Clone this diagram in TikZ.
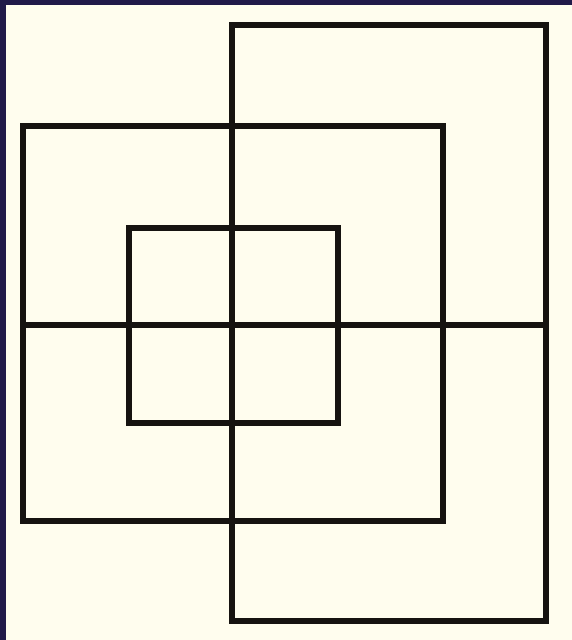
\documentclass[tikz,border=0pt]{standalone}
\usepackage{tikz}
\usetikzlibrary{positioning}

\definecolor{paper}{HTML}{FFFDEE}
\definecolor{frame}{HTML}{211A49}
\definecolor{ink}{HTML}{161310}

\begin{document}
\begin{tikzpicture}[
    x=0.02cm, y=-0.02cm,
    outline/.style={draw=ink, line width=3.4pt, line join=miter},
]

% --- Background and frame ---
\useasboundingbox (0,0) rectangle (572,640);
\fill[paper] (0,0) rectangle (572,640);
\fill[frame] (0,0) rectangle (572,5);
\fill[frame] (0,0) rectangle (6,640);

% --- Corners ---
\coordinate (leftTL) at (23,126);
\coordinate (leftBR) at (443,521);
\coordinate (tallTL) at (232,25);
\coordinate (tallBR) at (546,621);
\coordinate (innerTL) at (129,228);
\coordinate (innerBR) at (338,423);
\coordinate (midW) at (23,325);
\coordinate (midE) at (546,325);

% --- Squares ---
\draw[outline] (leftTL) rectangle (leftBR);
\draw[outline] (tallTL) rectangle (tallBR);
\draw[outline] (innerTL) rectangle (innerBR);

% --- Middle line ---
\draw[outline] (midW) -- (midE);

\end{tikzpicture}
\end{document}
